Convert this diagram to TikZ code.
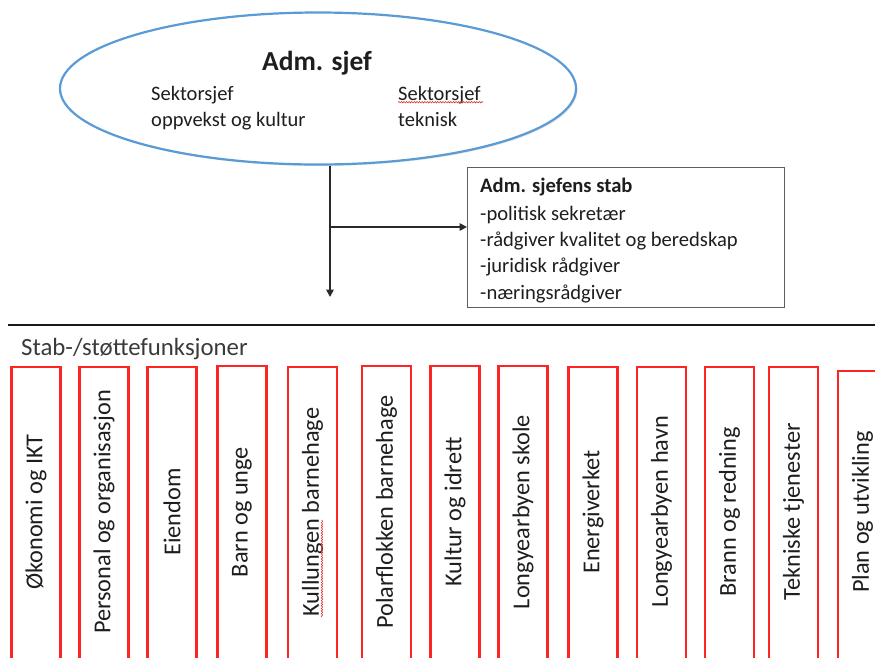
\documentclass[tikz,border=0pt]{standalone}
\usepackage{fontspec}
\setmainfont{Carlito}
\usetikzlibrary{shapes.geometric,arrows.meta,decorations.pathmorphing,shadows}
\definecolor{ellblue}{HTML}{5B9BD5}
\definecolor{txtcol}{HTML}{1E1E1E}
\definecolor{graytxt}{HTML}{3A3A3A}
\definecolor{conncol}{HTML}{2A2A2A}
\definecolor{stabgray}{HTML}{5E5E5E}
\definecolor{boxred}{HTML}{FF2424}
\definecolor{spellred}{HTML}{E03030}
\begin{document}
\begin{tikzpicture}[x=1pt,y=-1pt,
  txt/.style={inner sep=0pt, text=txtcol},
  elltxt/.style={txt, anchor=base west, font=\fontsize{20.5}{24}\selectfont},
  stabtxt/.style={txt, anchor=base west, font=\fontsize{20.6}{24}\selectfont},
  conn/.style={draw=conncol, line width=1.7pt, -{Triangle[length=7.5pt,width=7.5pt]}},
  redbox/.style={draw=boxred, line width=2.1pt, minimum width=49pt, minimum height=300pt, inner sep=0pt},
  rottxt/.style={txt, rotate=90, font=\fontsize{24.3}{28}\selectfont},
  spell/.style={draw=spellred, line width=0.6pt, decorate, decoration={snake, amplitude=0.7pt, segment length=2.6pt}}
]
\useasboundingbox (0,0) rectangle (875,657);

% top ellipse
\node[ellipse, draw=ellblue, line width=2.2pt, fill=white, inner sep=0pt,
      minimum width=516pt, minimum height=152pt,
      drop shadow={opacity=0.22, shadow xshift=1.5pt, shadow yshift=-1.5pt}] (adm) at (318,88.5) {};
\node[txt, anchor=base, font=\bfseries\fontsize{27.5}{30}\selectfont] (admt) at (317,70) {Adm. sjef};
\node[elltxt] (s1a) at (151,100) {Sektorsjef};
\node[elltxt] (s1b) at (151,126) {oppvekst og kultur};
\node[elltxt] (s2a) at (398,100) {Sektorsjef};
\node[elltxt] (s2b) at (398,126) {teknisk};
\draw[spell] (s2a.south west) ++(0,-1.5) -- ++(85,0);

% staff box
\node[draw=stabgray, line width=1.4pt, minimum width=317pt, minimum height=140pt, inner sep=0pt, anchor=north west] (stab) at (467,167) {};
\node[stabtxt, font=\bfseries\fontsize{20.6}{24}\selectfont] (st0) at (480,192.5) {Adm. sjefens stab};
\node[stabtxt] (st1) at (480,220) {-politisk sekretær};
\node[stabtxt] (st2) at (480,246.5) {-rådgiver kvalitet og beredskap};
\node[stabtxt] (st3) at (480,272.5) {-juridisk rådgiver};
\node[stabtxt] (st4) at (480,299) {-næringsrådgiver};

% connectors
\coordinate (vend) at (330,297);
\coordinate (br) at (330,227);
\draw[conn] ([xshift=12pt]adm.south) -- (vend);
\draw[conn] (br) -- (br -| stab.west);

% rule
\coordinate (ruleL) at (8,325);
\coordinate (ruleR) at (875,325);
\draw[draw=black!90, line width=2.4pt] (ruleL) -- (ruleR);

\node[inner sep=0pt, anchor=base west, text=graytxt, font=\fontsize{24.8}{28}\selectfont] (stt) at (21,355.5) {Stab-/støttefunksjoner};

% function boxes
\foreach \i/\x/\tp/\t in {
  1/36/367/{Økonomi og IKT},
  2/104/367/{Personal og organisasjon},
  3/172/367/{Eiendom},
  4/242/366/{Barn og unge},
  5/312.5/367/{Kullungen barnehage},
  6/386.5/366/{Polarflokken barnehage},
  7/455/366/{Kultur og idrett},
  8/523/366/{Longyearbyen skole},
  9/593/367/{Energiverket},
  10/661.5/367/{Longyearbyen havn},
  11/729.5/367/{Brann og redning},
  12/793.5/367/{Tekniske tjenester},
  13/862.5/371/{Plan og utvikling}} {
  \node[redbox] (b\i) at (\x,{\tp+150}) {};
  \node[rottxt] (t\i) at (\x,512) {\t};
}
\draw[spell] (322,617) -- (322,520);
\end{tikzpicture}
\end{document}
